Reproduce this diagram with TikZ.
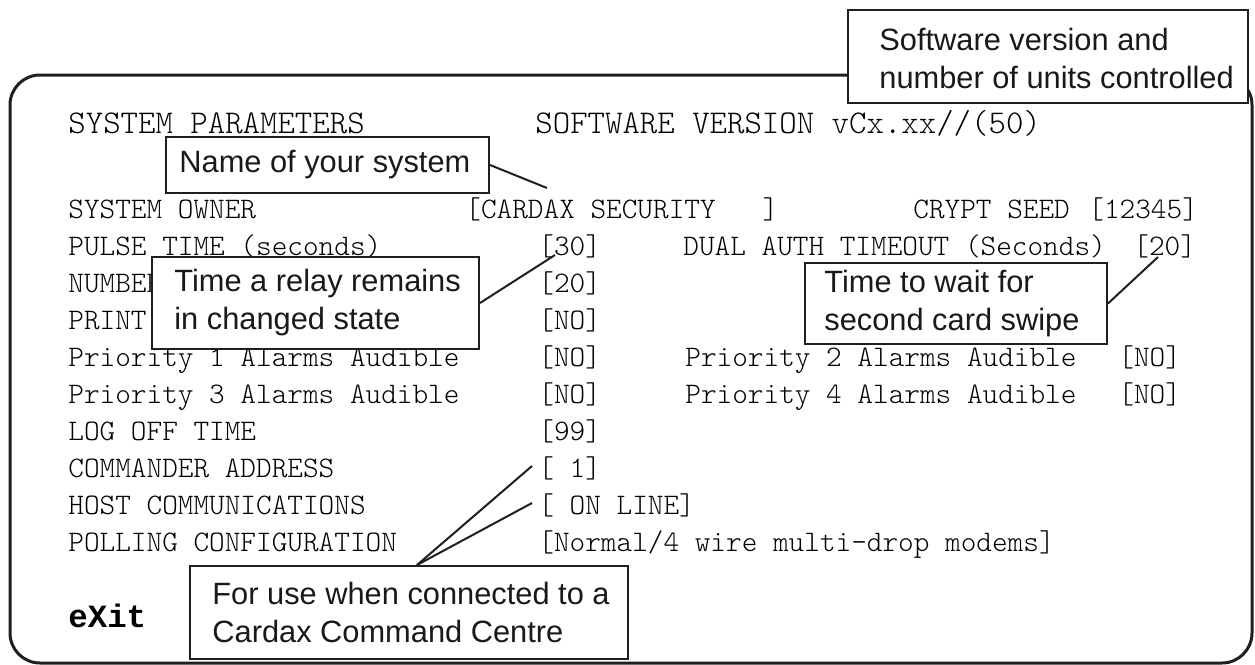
\documentclass[tikz,border=0pt]{standalone}
\usepackage{fontspec}
\newfontfamily\callfont{Liberation Sans}
\newfontfamily\exitfont{Liberation Mono}
\begin{document}
\begin{tikzpicture}[x=0.5pt,y=-0.5pt,
  screen/.style={font=\fontsize{14.9}{18}\ttfamily\fontseries{l}\selectfont,
    anchor=base west, inner sep=0pt, text=black},
  header/.style={screen, font=\fontsize{16.6}{20}\ttfamily\fontseries{l}\selectfont},
  exitkey/.style={screen, font=\fontsize{16.2}{20}\exitfont\bfseries},
  callbox/.style={draw=black!88, line width=1pt, fill=white, inner sep=0pt},
  calltext/.style={font=\fontsize{15.4}{19}\callfont, align=left, anchor=west,
    inner sep=0pt, text=black!90},
  leader/.style={draw=black!88, line width=1pt},
  frame/.style={draw=black!88, line width=1.5pt, rounded corners=15pt}
]
\useasboundingbox (0,0) rectangle (1255,665);

% screen border
\draw[frame] (10,75) rectangle (1252,663);

% screen header
\node[header] (hA) at (68,133) {SYSTEM PARAMETERS};
\node[header] (hB) at (535,133) {SOFTWARE VERSION vCx.xx//(50)};

% parameter rows
\node[screen] (r0a) at (68,218)  {SYSTEM OWNER};
\node[screen] (r0b) at (465,218) {[CARDAX SECURITY\ \ \ ]};
\node[screen] (r0c) at (913,218) {CRYPT SEED};
\node[screen] (r0d) at (1088,218) {[12345]};

\node[screen] (r1a) at (68,255)  {PULSE TIME (seconds)};
\node[screen] (r1b) at (538,255) {[30]};
\node[screen] (r1c) at (683,255) {DUAL AUTH TIMEOUT (Seconds)};
\node[screen] (r1d) at (1133,255) {[20]};

\node[screen] (r2a) at (68,292)  {NUMBER};
\node[screen] (r2b) at (538,292) {[20]};

\node[screen] (r3a) at (68,329)  {PRINT};
\node[screen] (r3b) at (538,329) {[NO]};

\node[screen] (r4a) at (68,366)  {Priority 1 Alarms Audible};
\node[screen] (r4b) at (538,366) {[NO]};
\node[screen] (r4c) at (685,366) {Priority 2 Alarms Audible};
\node[screen] (r4d) at (1118,366) {[NO]};

\node[screen] (r5a) at (68,403)  {Priority 3 Alarms Audible};
\node[screen] (r5b) at (538,403) {[NO]};
\node[screen] (r5c) at (685,403) {Priority 4 Alarms Audible};
\node[screen] (r5d) at (1118,403) {[NO]};

\node[screen] (r6a) at (68,440)  {LOG OFF TIME};
\node[screen] (r6b) at (538,440) {[99]};

\node[screen] (r7a) at (68,477)  {COMMANDER ADDRESS};
\node[screen] (r7b) at (538,477) {[\ 1]};

\node[screen] (r8a) at (68,514)  {HOST COMMUNICATIONS};
\node[screen] (r8b) at (538,514) {[\ ON LINE]};

\node[screen] (r9a) at (68,551)  {POLLING CONFIGURATION};
\node[screen] (r9b) at (538,551) {[Normal/4 wire multi-drop modems]};

\node[exitkey] (ex) at (68,627) {eXit};

% callout boxes
\node[callbox, minimum width=200pt, minimum height=46.5pt] (b1) at (1048,56.5) {};
\node[calltext] (t1) at ([xshift=16pt,yshift=-1pt]b1.west) {Software version and\\number of units controlled};

\node[callbox, minimum width=161.5pt, minimum height=28pt] (b2) at (327.5,165) {};
\node[calltext] (t2) at ([xshift=7pt]b2.west) {Name of your system};

\node[callbox, minimum width=163.5pt, minimum height=46pt] (b3) at (315.5,303) {};
\node[calltext] (t3) at ([xshift=11.5pt]b3.west) {Time a relay remains\\in changed state};

\node[callbox, minimum width=151pt, minimum height=40.5pt] (b4) at (956,303.5) {};
\node[calltext] (t4) at ([xshift=10pt]b4.west) {Time to wait for\\second card swipe};

\node[callbox, minimum width=219pt, minimum height=46.5pt] (b5) at (409,612.5) {};
\node[calltext] (t5) at ([xshift=11.5pt]b5.west) {For use when connected to a\\Cardax Command Centre};

% leader lines
\coordinate (k2) at (547,188);
\coordinate (k3) at (555,255);
\coordinate (k4) at (1158,257);
\coordinate (k5a) at (532,466);
\coordinate (k5b) at (532,503);
\draw[leader] (b2.east) -- (k2);
\draw[leader] (b3.east) -- (k3);
\draw[leader] (b4.east) -- (k4);
\draw[leader] ([xshift=114pt]b5.north west) -- (k5a);
\draw[leader] ([xshift=114pt]b5.north west) -- (k5b);
\end{tikzpicture}
\end{document}
